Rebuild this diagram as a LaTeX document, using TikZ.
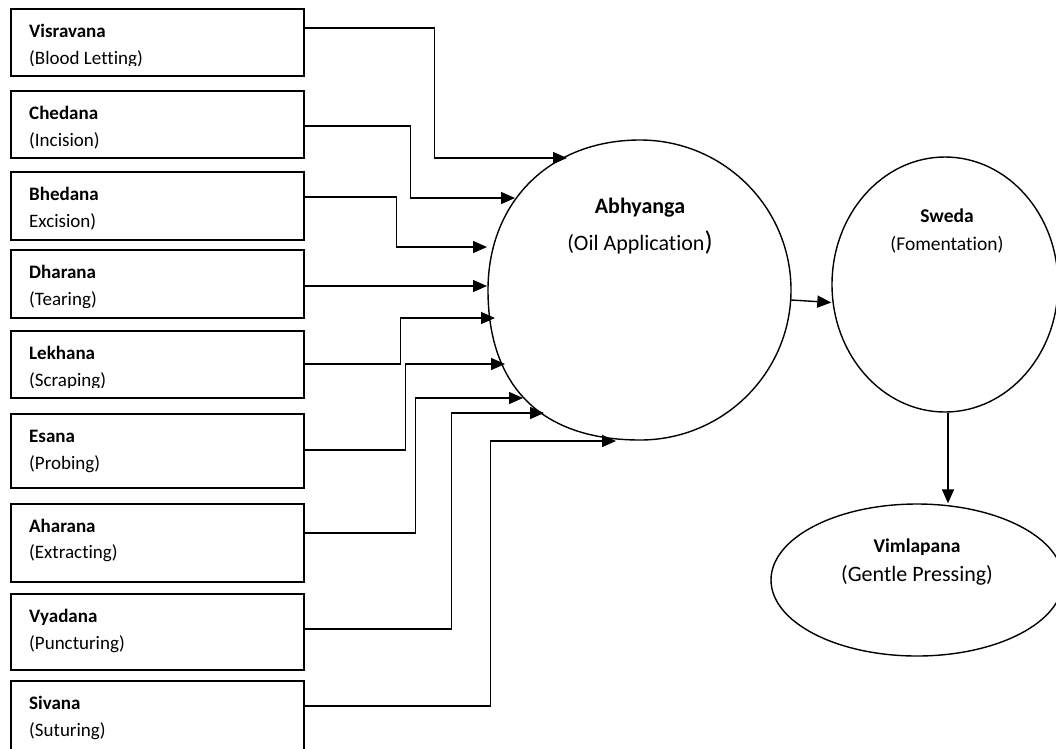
\documentclass[tikz,border=0pt]{standalone}
\usepackage{fontspec}
\setmainfont{Carlito}[Ligatures=NoCommon]
\usetikzlibrary{arrows.meta,calc,shapes.geometric}
\begin{document}
\begin{tikzpicture}[x=1pt,y=-1pt,
  box/.style={draw,line width=1.6pt,rectangle,anchor=north west,minimum width=293pt,inner sep=0pt},
  conn/.style={line width=1.4pt,-{Triangle[length=14pt,width=12pt]}},
  ring/.style={circle,inner sep=0pt},
  outline/.style={line width=1.4pt},
  oval/.style={draw,line width=1.4pt,ellipse,inner sep=0pt},
  ttl/.style={anchor=base west,inner sep=0pt,font=\fontsize{19}{23}\selectfont\bfseries},
  sub/.style={anchor=base west,inner sep=0pt,font=\fontsize{19}{23}\selectfont},
  ctl/.style={anchor=base,inner sep=0pt,font=\fontsize{19.5}{23}\selectfont\bfseries},
  csub/.style={anchor=base,inner sep=0pt,font=\fontsize{19.5}{23}\selectfont},
]
\useasboundingbox (0,0) rectangle (1056,748);
\clip (0,0) rectangle (1056,748);

% boxes
\node[box,minimum height=67pt] (b1) at (10,8) {};
\node[box,minimum height=67pt] (b2) at (10,90) {};
\node[box,minimum height=68pt] (b3) at (10,171) {};
\node[box,minimum height=68pt] (b4) at (10,249) {};
\node[box,minimum height=67pt] (b5) at (10,330) {};
\node[box,minimum height=74pt] (b6) at (10,413) {};
\node[box,minimum height=78pt] (b7) at (10,503) {};
\node[box,minimum height=76pt] (b8) at (10,593) {};
\node[box,minimum height=100pt] (b9) at (10,680) {};

% box texts
\node[ttl] (t1) at ($(b1.north west)+(19,29.5)$) {Visravana};
\begin{scope}
  \clip (b1.north west) rectangle ($(b1.south east)+(0,-11)$);
  \node[sub] (s1) at ($(b1.north west)+(19,56)$) {(Blood Letting)};
\end{scope}
\node[ttl] (t2) at ($(b2.north west)+(19,29.5)$) {Chedana};
\node[sub] (s2) at ($(b2.north west)+(19,56)$) {(Incision)};
\node[ttl] (t3) at ($(b3.north west)+(19,29.5)$) {Bhedana};
\node[sub] (s3) at ($(b3.north west)+(19,56)$) {Excision)};
\node[ttl] (t4) at ($(b4.north west)+(19,29.5)$) {Dharana};
\begin{scope}
  \clip (b4.north west) rectangle ($(b4.south east)+(0,-11)$);
  \node[sub] (s4) at ($(b4.north west)+(19,56)$) {(Tearing)};
\end{scope}
\node[ttl] (t5) at ($(b5.north west)+(19,29.5)$) {Lekhana};
\begin{scope}
  \clip (b5.north west) rectangle ($(b5.south east)+(0,-11)$);
  \node[sub] (s5) at ($(b5.north west)+(19,56)$) {(Scraping)};
\end{scope}
\node[ttl] (t6) at ($(b6.north west)+(19,29.5)$) {Esana};
\node[sub] (s6) at ($(b6.north west)+(19,56)$) {(Probing)};
\node[ttl] (t7) at ($(b7.north west)+(19,29)$) {Aharana};
\node[sub] (s7) at ($(b7.north west)+(19,55.5)$) {(Extracting)};
\node[ttl] (t8) at ($(b8.north west)+(19,29.5)$) {Vyadana};
\node[sub] (s8) at ($(b8.north west)+(19,56)$) {(Puncturing)};
\node[ttl] (t9) at ($(b9.north west)+(19,29.5)$) {Sivana};
\node[sub] (s9) at ($(b9.north west)+(19,56)$) {(Suturing)};

% Abhyanga (round shape, slightly fuller on the lower left)
\node[ring,minimum size=302pt] (abh) at (640,290) {};
\begin{scope}[shift={(abh.center)}]
  \draw[outline] (0,-150) .. controls (83.4,-150) and (151,-82.8) .. (151,0)
    .. controls (151,82.8) and (83.4,150) .. (0,150)
    .. controls (-98.3,150) and (-152,97) .. (-152,0)
    .. controls (-152,-88.5) and (-89.7,-150) .. cycle;
\end{scope}
\node[anchor=base,inner sep=0pt,font=\fontsize{22}{26}\selectfont\bfseries] (abht) at ($(abh)+(0,-77)$) {Abhyanga};
\node[anchor=base,inner sep=0pt,font=\fontsize{22}{26}\selectfont] (abhs) at ($(abh)+(0,-40)$) {(Oil Application{\fontsize{27}{30}\selectfont)}};

\node[oval,minimum width=226pt,minimum height=255pt] (swe) at (945,284.5) {};
\node[ctl] (swet) at ($(swe)+(2,-62)$) {Sweda};
\node[csub] (swes) at ($(swe)+(2,-34.5)$) {(Fomentation)};

\node[oval,minimum width=292pt,minimum height=152pt] (vim) at (917,580) {};
\node[ctl] (vimt) at ($(vim)+(0,-28)$) {Vimlapana};
\node[anchor=base,inner sep=0pt,font=\fontsize{22}{26}\selectfont] (vims) at ($(vim)+(0,1)$) {(Gentle Pressing)};

% connectors
\draw[conn] ($(b1.north east)+(0,20)$) -- ++(130,0) |- ($(abh)+(-73,-132)$);
\draw[conn] ($(b2.north east)+(0,36)$) -- ++(106,0) |- ($(abh)+(-125,-92)$);
\draw[conn] ($(b3.north east)+(0,26)$) -- ++(92,0) |- ($(abh)+(-153,-43)$);
\draw[conn] ($(b4.north east)+(0,37)$) -- ($(abh)+(-153,-4)$);
\draw[conn] ($(b5.north east)+(0,34)$) -- ++(96,0) |- ($(abh)+(-145,28)$);
\draw[conn] ($(b6.north east)+(0,37)$) -- ++(101,0) |- ($(abh)+(-135,74)$);
\draw[conn] ($(b7.north east)+(0,30)$) -- ++(111,0) |- ($(abh)+(-117,108)$);
\draw[conn] ($(b8.north east)+(0,36)$) -- ++(147,0) |- ($(abh)+(-96,123)$);
\draw[conn] ($(b9.north east)+(0,26)$) -- ++(186,0) |- ($(abh)+(-24,151)$);

\draw[conn] ([yshift=-10pt]abh.east) -- ([yshift=-18pt]swe.west);
\draw[conn] ([xshift=3pt]swe.south) -- ([xshift=3pt]swe.south |- vim.north);
\end{tikzpicture}
\end{document}
